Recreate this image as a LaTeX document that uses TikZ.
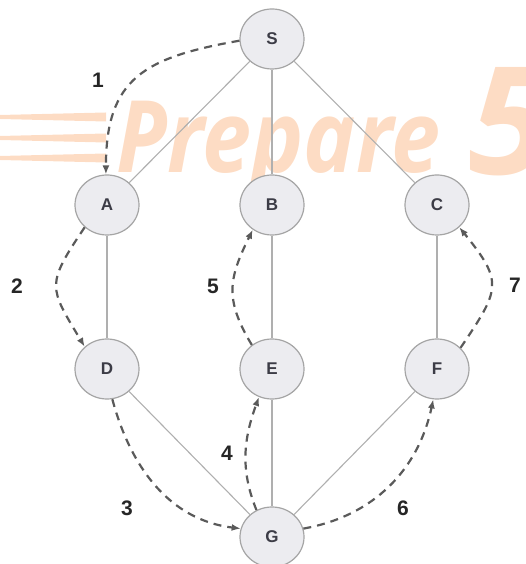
\documentclass[tikz,border=0pt]{standalone}
\usepackage{fontspec}
\setmainfont{Liberation Sans}
\newfontfamily\markfont{Open Sans}
\usetikzlibrary{arrows.meta,shapes.geometric}
\definecolor{wmark}{RGB}{253,220,196}
\definecolor{nodefill}{RGB}{236,236,240}
\definecolor{nodeline}{RGB}{165,165,165}
\definecolor{nodetext}{RGB}{60,60,70}
\definecolor{edgegray}{RGB}{175,175,175}
\definecolor{walkgray}{RGB}{90,90,90}
\begin{document}
\begin{tikzpicture}[x=1pt,y=1pt,
	vertex/.style={ellipse,draw=nodeline,fill=nodefill,line width=1.2pt,minimum width=64pt,minimum height=60pt,inner sep=0pt,text=nodetext,font=\fontsize{17}{17}\selectfont\bfseries},
	edge/.style={draw=edgegray,line width=1.1pt},
	walk/.style={draw=walkgray,line width=2.2pt,dash pattern=on 8pt off 6pt,-{Latex[length=9pt,width=7pt]}},
	numlabel/.style={text=black!85,font=\fontsize{21}{21}\selectfont\bfseries},
	markstyle/.style={anchor=base west,inner sep=0pt,text=wmark}]
			\useasboundingbox (0,0) rectangle (526,564);
			% watermark
			\foreach \ly in {447,426,406}
				\fill[wmark] (0,\ly-2) -- (106,\ly-4.5) -- (106,\ly+4.5) -- (0,\ly+2) -- cycle;
			\node[markstyle,font=\fontsize{100}{100}\markfont\bfseries\itshape,xscale=0.88] (wmtext) at (116,391) {Prepare};
			\node[markstyle,font=\fontsize{150}{150}\markfont\bfseries\itshape] (wmfive) at (468,389) {5};
			% vertices
			\node[vertex] (S) at (272,525) {S};
			\node[vertex] (A) at (107,359) {A}; \node[vertex] (B) at (272,359) {B}; \node[vertex] (C) at (437,359) {C};
			\node[vertex] (D) at (107,195) {D}; \node[vertex] (E) at (272,195) {E}; \node[vertex] (F) at (437,195) {F};
			\node[vertex] (G) at (272,27) {G};
			% tree edges
			\draw[edge] (S) -- (A); \draw[edge] (S) -- (B); \draw[edge] (S) -- (C);
			\draw[edge] (A) -- (D); \draw[edge] (B) -- (E); \draw[edge] (C) -- (F);
			\draw[edge] (D) -- (G); \draw[edge] (E) -- (G); \draw[edge] (F) -- (G);
			% traversal order
			\draw[walk] (S.183) to[out=190,in=90,looseness=1.3] (A.92);
			\draw[walk] (A.225) to[out=236,in=121,looseness=1.5] (D.135);
			\draw[walk] (D.280) to[out=285,in=173] (G.165);
			\draw[walk] (G.120) to[out=112,in=250] (E.245);
			\draw[walk] (E.130) to[out=121,in=244,looseness=1.2] (B.232);
			\draw[walk] (G.15) to[out=10,in=258] (F.263);
			\draw[walk] (F.42) to[out=56,in=309,looseness=1.5] (C.315);
			\node[numlabel] (n1) at (98,484) {1};
			\node[numlabel] (n2) at (17,278) {2};
			\node[numlabel] (n3) at (127,56) {3};
			\node[numlabel] (n4) at (227,111) {4};
			\node[numlabel] (n5) at (213,278) {5};
			\node[numlabel] (n6) at (403,56) {6};
			\node[numlabel] (n7) at (515,279) {7};
\end{tikzpicture}
\end{document}
